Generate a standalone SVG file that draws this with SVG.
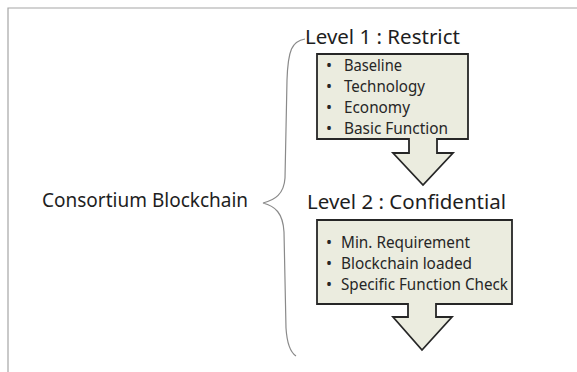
<svg xmlns="http://www.w3.org/2000/svg" width="577" height="372" viewBox="0 0 577 372">
  <style>
    .frame { fill: none; stroke: #a6a6a6; stroke-width: 1.2; }
    .box { fill: #ebecdf; stroke: #262626; stroke-width: 1.8; stroke-linejoin: miter; }
    .brace { fill: none; stroke: #8a8a8a; stroke-width: 1.2; }
    .title { font-family: "Noto Sans", "Open Sans", sans-serif; font-size: 20.5px; fill: #1e1e1e; }
    .label { font-family: "Noto Sans", "Open Sans", sans-serif; font-size: 19px; fill: #1e1e1e; }
    .item { font-family: "Noto Sans", "Open Sans", sans-serif; font-size: 16px; fill: #262626; }
    .dot { font-family: "Noto Sans", "Open Sans", sans-serif; font-size: 16px; fill: #262626; }
  </style>
  <rect width="577" height="372" fill="#ffffff"/>
  <!-- page frame: top and left edges only -->
  <path class="frame" d="M8,372 L8,8 L577,8"/>

  <g id="root">
    <text class="label" x="42" y="207">Consortium Blockchain</text>
  </g>

  <g id="connectors">
    <path class="brace" d="M305,39 C292,41 288,50 287,80 L285,178 C284,194 275,200 263,203 C275,206 283,213 284,232 L286,328 C287,344 290,352 296,356"/>
  </g>

  <g id="level1">
    <text class="title" x="305" y="44">Level 1 : Restrict</text>
    <path class="box" d="M317,54 L468,54 L468,139 L437,139 L437,153 L453,153 L423,185 L393,153 L409,153 L409,139 L317,139 Z"/>
    <text class="dot" x="326" y="71">•</text>
    <text class="dot" x="326" y="92">•</text>
    <text class="dot" x="326" y="113">•</text>
    <text class="dot" x="326" y="134">•</text>
    <text class="item" x="344" y="71" textLength="58" lengthAdjust="spacingAndGlyphs">Baseline</text>
    <text class="item" x="344" y="92" textLength="81" lengthAdjust="spacingAndGlyphs">Technology</text>
    <text class="item" x="344" y="113" textLength="66" lengthAdjust="spacingAndGlyphs">Economy</text>
    <text class="item" x="344" y="134" textLength="104" lengthAdjust="spacingAndGlyphs">Basic Function</text>
  </g>

  <g id="level2">
    <text class="title" x="307" y="209">Level 2 : Confidential</text>
    <path class="box" d="M317,220 L512,220 L512,304 L436,304 L436,317 L452,317 L422,350 L393,317 L408,317 L408,304 L317,304 Z"/>
    <text class="dot" x="326" y="248">•</text>
    <text class="dot" x="326" y="269">•</text>
    <text class="dot" x="326" y="290">•</text>
    <text class="item" x="341" y="248" textLength="129" lengthAdjust="spacingAndGlyphs">Min. Requirement</text>
    <text class="item" x="341" y="269" textLength="131" lengthAdjust="spacingAndGlyphs">Blockchain loaded</text>
    <text class="item" x="341" y="290" textLength="167" lengthAdjust="spacingAndGlyphs">Specific Function Check</text>
  </g>
</svg>
